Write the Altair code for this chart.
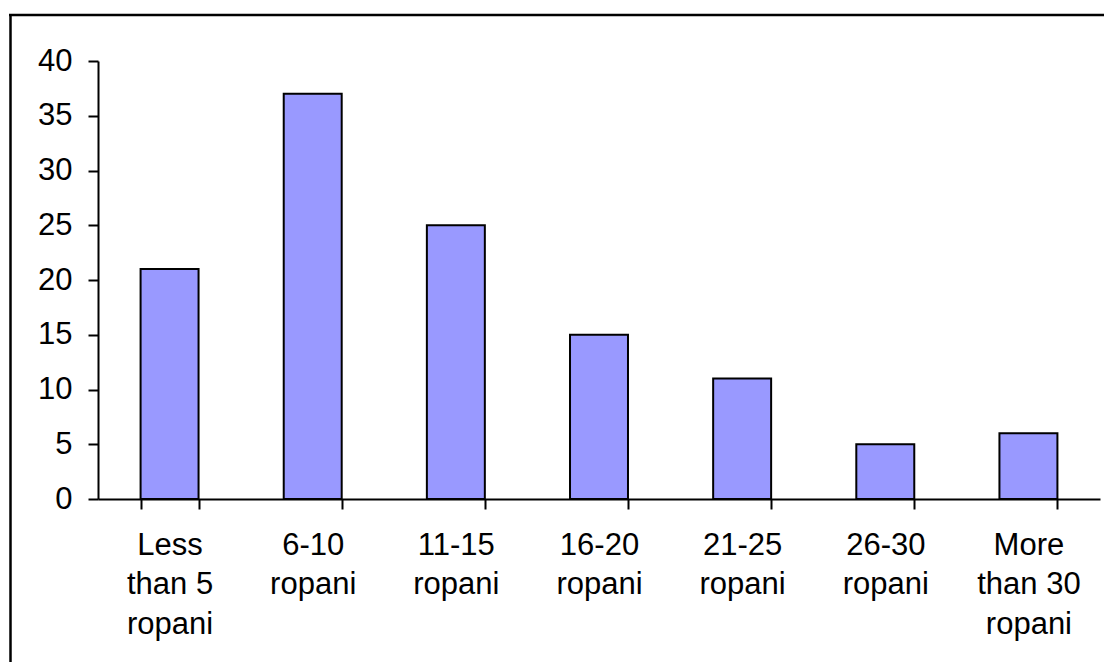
import altair as alt
import pandas as pd

# Land holding size classes and number of households in each
categories = [
    "Less\nthan 5\nropani",
    "6-10\nropani",
    "11-15\nropani",
    "16-20\nropani",
    "21-25\nropani",
    "26-30\nropani",
    "More\nthan 30\nropani",
]
households = [21, 37, 25, 15, 11, 5, 6]

df = pd.DataFrame({"category": categories, "households": households})

W, H = 1002, 438
FONT = "Liberation Sans"

bars = alt.Chart(df).mark_bar(
    color="#9999FF", stroke="black", strokeWidth=2
).encode(
    x=alt.X(
        "category:N",
        sort=categories,
        scale=alt.Scale(paddingInner=0.595, paddingOuter=0.2975),
        axis=alt.Axis(
            title=None,
            labelAngle=0,
            labelExpr="split(datum.label, '\\n')",
            labelLineHeight=39.5,
            labelFontSize=31,
            labelFont=FONT,
            labelColor="black",
            labelPadding=21,
            tickBand="extent",
            tickSize=10,
            tickWidth=2,
            tickColor="black",
            domainColor="black",
            domainWidth=2,
            labelBaseline="top",
        ),
    ),
    y=alt.Y(
        "households:Q",
        scale=alt.Scale(domain=[0, 40], nice=False),
        axis=alt.Axis(
            title=None,
            values=[0, 5, 10, 15, 20, 25, 30, 35, 40],
            grid=False,
            labelFontSize=31,
            labelFont=FONT,
            labelColor="black",
            labelPadding=16,
            tickSize=10,
            tickWidth=2,
            tickColor="black",
            domainColor="black",
            domainWidth=2,
        ),
    ),
)

# Outer frame around the whole chart: only its top and left edges fall inside the canvas
one = pd.DataFrame({"k": [0]})
frame_top = alt.Chart(one).mark_rule(
    color="black", strokeWidth=2.5, clip=False
).encode(
    x=alt.value(-89),
    x2=alt.value(W + 60),
    y=alt.value(-46),
)
frame_left = alt.Chart(one).mark_rule(
    color="black", strokeWidth=2.5, clip=False
).encode(
    x=alt.value(-87.5),
    y=alt.value(-47),
    y2=alt.value(H + 300),
)

chart = alt.layer(frame_top, frame_left, bars).properties(
    width=W,
    height=H,
    padding={"left": 98, "top": 61, "right": 4, "bottom": 163},
    autosize=alt.AutoSizeParams(type="none"),
).configure(background="white").configure_view(strokeWidth=0, stroke="transparent")

chart.save("out.html", embed_options={"renderer": "svg", "actions": False})
